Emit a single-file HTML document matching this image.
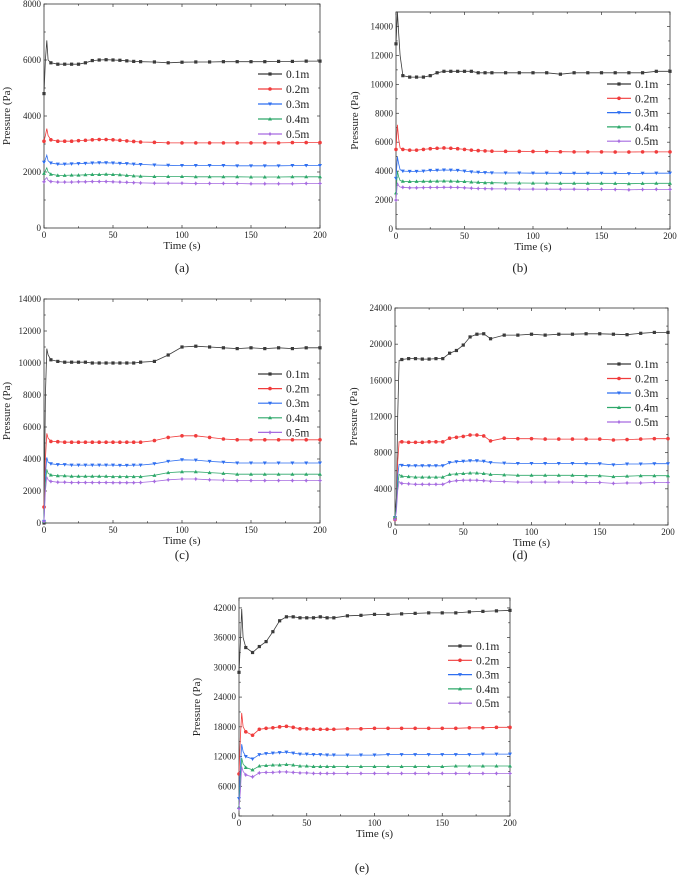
<!DOCTYPE html>
<html><head><meta charset="utf-8"><style>
html,body{margin:0;padding:0;background:#fff;}
svg, svg text{font-family:"Liberation Serif","Times New Roman",serif;}
</style></head><body>
<svg id="fig" width="677" height="880" viewBox="0 0 677 880" xmlns="http://www.w3.org/2000/svg" font-family="Liberation Serif, serif"></svg>
<script>
const times = [0,1,2,3,5,10,15,20,25,30,35,40,45,50,55,60,65,70,80,90,100,110,120,130,140,150,160,170,180,190,200];
const seriesLabels = ["0.1m","0.2m","0.3m","0.4m","0.5m"];
const xTicks = [0,50,100,150,200];
// panel a
const a01=[4800,6000,6700,6000,5900,5850,5850,5850,5850,5900,5980,6000,6010,6000,5990,5970,5950,5940,5930,5900,5920,5930,5930,5940,5940,5940,5940,5950,5950,5960,5960];
const a02=[3100,3300,3550,3300,3150,3100,3100,3100,3120,3130,3150,3160,3160,3150,3130,3110,3090,3070,3060,3040,3040,3040,3040,3040,3040,3040,3040,3040,3050,3050,3050];
const a03=[2350,2450,2600,2400,2320,2280,2280,2290,2300,2310,2320,2330,2330,2320,2310,2300,2280,2270,2250,2240,2230,2230,2230,2230,2220,2220,2220,2220,2230,2230,2230];
const a04=[1950,2050,2150,2000,1920,1880,1880,1890,1890,1900,1910,1910,1920,1910,1900,1880,1860,1850,1840,1840,1840,1830,1830,1830,1830,1820,1820,1820,1830,1830,1830];
const a05=[1650,1750,1800,1700,1660,1640,1640,1640,1650,1650,1660,1660,1660,1650,1640,1630,1620,1610,1600,1600,1600,1590,1590,1590,1590,1580,1580,1580,1580,1590,1590];
const aTicks=[0,2000,4000,6000,8000];
// panel b
const b01=[12800,15000,13500,12000,10600,10500,10500,10500,10600,10800,10900,10900,10900,10900,10900,10800,10800,10800,10800,10800,10800,10800,10700,10800,10800,10800,10800,10800,10800,10900,10900];
const b02=[5500,7200,6200,5600,5500,5450,5450,5500,5550,5580,5600,5580,5550,5500,5450,5420,5400,5380,5370,5370,5360,5350,5340,5330,5330,5330,5320,5320,5330,5330,5330];
const b03=[3500,5000,4500,4100,4000,3980,3980,4000,4050,4060,4080,4070,4050,4000,3950,3920,3900,3880,3870,3870,3860,3860,3850,3850,3850,3850,3850,3830,3850,3860,3860];
const b04=[2500,4000,3600,3350,3300,3280,3290,3300,3300,3310,3320,3310,3300,3280,3250,3230,3200,3200,3180,3180,3170,3170,3160,3160,3160,3160,3150,3130,3150,3160,3160];
const b05=[2000,3200,3000,2900,2880,2850,2850,2860,2870,2870,2880,2880,2870,2850,2820,2800,2790,2780,2770,2760,2760,2750,2750,2750,2740,2740,2730,2710,2730,2740,2740];
const bTicks=[0,2000,4000,6000,8000,10000,12000,14000];
// panel c
const c01=[0,8000,10900,10500,10200,10100,10050,10050,10050,10050,10000,10000,10000,10000,10000,10000,10000,10050,10100,10500,11000,11050,11000,10950,10900,10950,10900,10950,10900,10950,10950];
const c02=[1000,4000,5600,5300,5100,5080,5050,5050,5050,5050,5050,5050,5050,5050,5050,5050,5050,5050,5150,5350,5450,5450,5350,5250,5200,5200,5200,5200,5200,5200,5200];
const c03=[100,3000,4100,3800,3700,3650,3650,3620,3620,3620,3620,3620,3620,3620,3600,3600,3620,3620,3700,3850,3950,3930,3850,3800,3750,3750,3750,3750,3750,3750,3750];
const c04=[100,2500,3350,3100,3000,2950,2950,2920,2920,2920,2920,2920,2920,2900,2900,2900,2900,2900,2980,3150,3200,3200,3150,3100,3050,3050,3050,3050,3050,3050,3050];
const c05=[100,2000,2900,2700,2600,2550,2550,2530,2530,2530,2530,2530,2530,2520,2520,2520,2520,2530,2600,2700,2750,2750,2700,2680,2650,2650,2650,2650,2650,2650,2650];
const cTicks=[0,2000,4000,6000,8000,10000,12000,14000];
// panel d
const d01=[800,3000,12000,18200,18300,18400,18400,18350,18350,18400,18400,19000,19300,19900,20800,21100,21150,20600,21000,21000,21100,21000,21100,21100,21150,21150,21100,21050,21200,21300,21300];
const d02=[600,2000,7000,9200,9200,9150,9150,9150,9200,9200,9200,9600,9700,9800,9950,9950,9850,9300,9600,9550,9550,9500,9500,9500,9500,9500,9400,9450,9500,9550,9550];
const d03=[800,2000,5500,6700,6600,6550,6550,6550,6550,6550,6550,6900,7000,7050,7100,7100,7050,6900,6850,6800,6800,6800,6800,6800,6780,6780,6650,6750,6750,6780,6780];
const d04=[900,2000,4500,5600,5400,5350,5300,5300,5300,5300,5300,5600,5650,5700,5750,5750,5700,5600,5550,5500,5500,5500,5500,5500,5450,5450,5350,5400,5450,5450,5450];
const d05=[600,1500,3800,4800,4600,4550,4500,4500,4500,4500,4500,4800,4900,4950,4950,4950,4900,4850,4800,4750,4750,4750,4750,4750,4700,4700,4600,4650,4650,4700,4700];
const dTicks=[0,4000,8000,12000,16000,20000,24000];
// panel e
const e01=[29000,35000,41800,36000,34000,33000,34200,35200,37200,39400,40200,40200,40000,40000,40000,40200,40000,40000,40400,40500,40700,40700,40800,40900,41000,41000,41000,41200,41300,41400,41500];
const e02=[8500,16000,20800,18000,17000,16300,17500,17700,17800,18000,18100,17900,17600,17600,17500,17500,17500,17500,17600,17600,17700,17700,17700,17700,17700,17700,17700,17800,17800,17900,17900];
const e03=[3500,10000,14500,13000,12000,11500,12400,12600,12700,12800,12900,12700,12500,12500,12400,12400,12300,12300,12300,12300,12300,12400,12400,12400,12400,12400,12400,12400,12500,12500,12500];
const e04=[1800,7000,11700,10500,9800,9300,10100,10200,10300,10300,10400,10300,10100,10100,10000,10000,10000,10000,10000,10000,10000,10000,10000,10000,10000,10000,10100,10100,10100,10100,10100];
const e05=[1500,5000,10000,9000,8300,7900,8700,8800,8800,8900,8900,8800,8700,8700,8600,8600,8600,8600,8600,8600,8600,8600,8600,8600,8600,8600,8600,8600,8600,8600,8600];
const eTicks=[0,6000,12000,18000,24000,30000,36000,42000];

const colors=["#3a3a3a","#f03c3c","#2f6ff0","#2ea86a","#a66be0"];
const NS="http://www.w3.org/2000/svg";
const FF="Liberation Serif, serif";
const svg=document.getElementById("fig");
function mk(tag,attrs,parent){const e=document.createElementNS(NS,tag);for(const k in attrs)e.setAttribute(k,attrs[k]);if(tag==="text")e.setAttribute("font-family",FF);(parent||svg).appendChild(e);return e;}
function marker(g,k,x,y,c){
  let e;
  if(k===0){e=mk("rect",{x:x-1.6,y:y-1.6,width:3.2,height:3.2,fill:c},g);}
  else if(k===1){e=mk("circle",{cx:x,cy:y,r:1.8,fill:c},g);}
  else if(k===2){e=mk("polygon",{points:`${x-2},${y-1.5} ${x+2},${y-1.5} ${x},${y+2}`,fill:c},g);}
  else if(k===3){e=mk("polygon",{points:`${x-2},${y+1.5} ${x+2},${y+1.5} ${x},${y-2}`,fill:c},g);}
  else {e=mk("polygon",{points:`${x},${y-2.2} ${x+0.8},${y-0.8} ${x+2.2},${y} ${x+0.8},${y+0.8} ${x},${y+2.2} ${x-0.8},${y+0.8} ${x-2.2},${y} ${x-0.8},${y-0.8}`,fill:c},g);}
  
  
}
function panel(p){
  const g=mk("g",{});
  
  
  const xs=t=>p.l+(p.r-p.l)*t/200;
  const ys=v=>p.b-(p.b-p.t)*v/p.ymax;
  const box=mk("rect",{x:p.l,y:p.t,width:p.r-p.l,height:p.b-p.t,fill:"none",stroke:"#333","stroke-width":0.8},g);
  
  
  const step=p.yt[1]-p.yt[0];
  for(let v=0;v<=p.ymax+1;v+=step/2){
    const y=ys(v), len=(v%step===0)?3:1.8;
    mk("line",{x1:p.l,x2:p.l+len,y1:y,y2:y,stroke:"#333","stroke-width":0.7},g);
    mk("line",{x1:p.r,x2:p.r-len,y1:y,y2:y,stroke:"#333","stroke-width":0.7},g);
  }
  p.yt.forEach(v=>{
    const t=mk("text",{x:p.l-3,y:ys(v)+3,"text-anchor":"end","font-size":9,fill:"#222"},g);
    t.textContent=v;
    
    
  });
  for(let tt=0;tt<=200;tt+=25){
    const x=xs(tt),len=(tt%50===0)?3:1.8;
    mk("line",{x1:x,x2:x,y1:p.b,y2:p.b-len,stroke:"#333","stroke-width":0.7},g);
    mk("line",{x1:x,x2:x,y1:p.t,y2:p.t+len,stroke:"#333","stroke-width":0.7},g);
  }
  xTicks.forEach(v=>{
    const t=mk("text",{x:xs(v),y:p.b+10,"text-anchor":"middle","font-size":9,fill:"#222"},g);
    t.textContent=v;
    
    
  });
  const xt=mk("text",{x:(p.l+p.r)/2,y:p.b+21,"text-anchor":"middle","font-size":11,fill:"#222"},g);
  xt.textContent="Time (s)";
  
  
  const yx=p.ylx, yy=(p.t+p.b)/2;
  const yt=mk("text",{x:yx,y:yy,"text-anchor":"middle","font-size":11,fill:"#222",transform:`rotate(-90 ${yx} ${yy})`},g);
  yt.textContent="Pressure (Pa)";
  
  
  p.data.forEach((arr,k)=>{
    const pts=arr.map((v,i)=>xs(times[i]).toFixed(1)+","+ys(v).toFixed(1)).join(" ");
    const pl=mk("polyline",{points:pts,fill:"none",stroke:colors[k],"stroke-width":0.8},g);
    
    
    arr.forEach((v,i)=>{ if(times[i]>=5 || i===0) marker(g,k,xs(times[i]),ys(v),colors[k]); });
  });
  p.data.forEach((arr,k)=>{
    const y=p.legY+k*p.legD;
    const lg=mk("g",{},g);
    
    
    mk("line",{x1:p.legX,x2:p.legX+24,y1:y,y2:y,stroke:colors[k],"stroke-width":1.2},lg);
    marker(lg,k,p.legX+12,y,colors[k]);
    const t=mk("text",{x:p.legX+28,y:y+4,"font-size":11.5,fill:"#222"},lg);
    t.textContent=seriesLabels[k];
  });
  const cap=mk("text",{x:p.capX,y:p.capY,"text-anchor":"middle","font-size":13,fill:"#222"},g);
  cap.textContent="("+p.id+")";
  
  
}
panel({id:"a",l:44,r:320,t:4,b:228,ymax:8000,yt:aTicks,data:[a01,a02,a03,a04,a05],legX:258,legY:74,legD:15,ylx:10,capX:182,capY:272});
panel({id:"b",l:396,r:670,t:12,b:229,ymax:15000,yt:bTicks,data:[b01,b02,b03,b04,b05],legX:607,legY:84,legD:14.3,ylx:358,capX:520,capY:272});
panel({id:"c",l:44,r:320,t:299,b:523,ymax:14000,yt:cTicks,data:[c01,c02,c03,c04,c05],legX:258,legY:374,legD:14.6,ylx:10,capX:182,capY:559});
panel({id:"d",l:395,r:668,t:308,b:525,ymax:24000,yt:dTicks,data:[d01,d02,d03,d04,d05],legX:607,legY:364,legD:14.5,ylx:357,capX:520,capY:559});
panel({id:"e",l:239,r:510,t:598,b:816,ymax:44000,yt:eTicks,data:[e01,e02,e03,e04,e05],legX:448,legY:646,legD:14.3,ylx:200,capX:362,capY:872});
</script>
</body></html>
